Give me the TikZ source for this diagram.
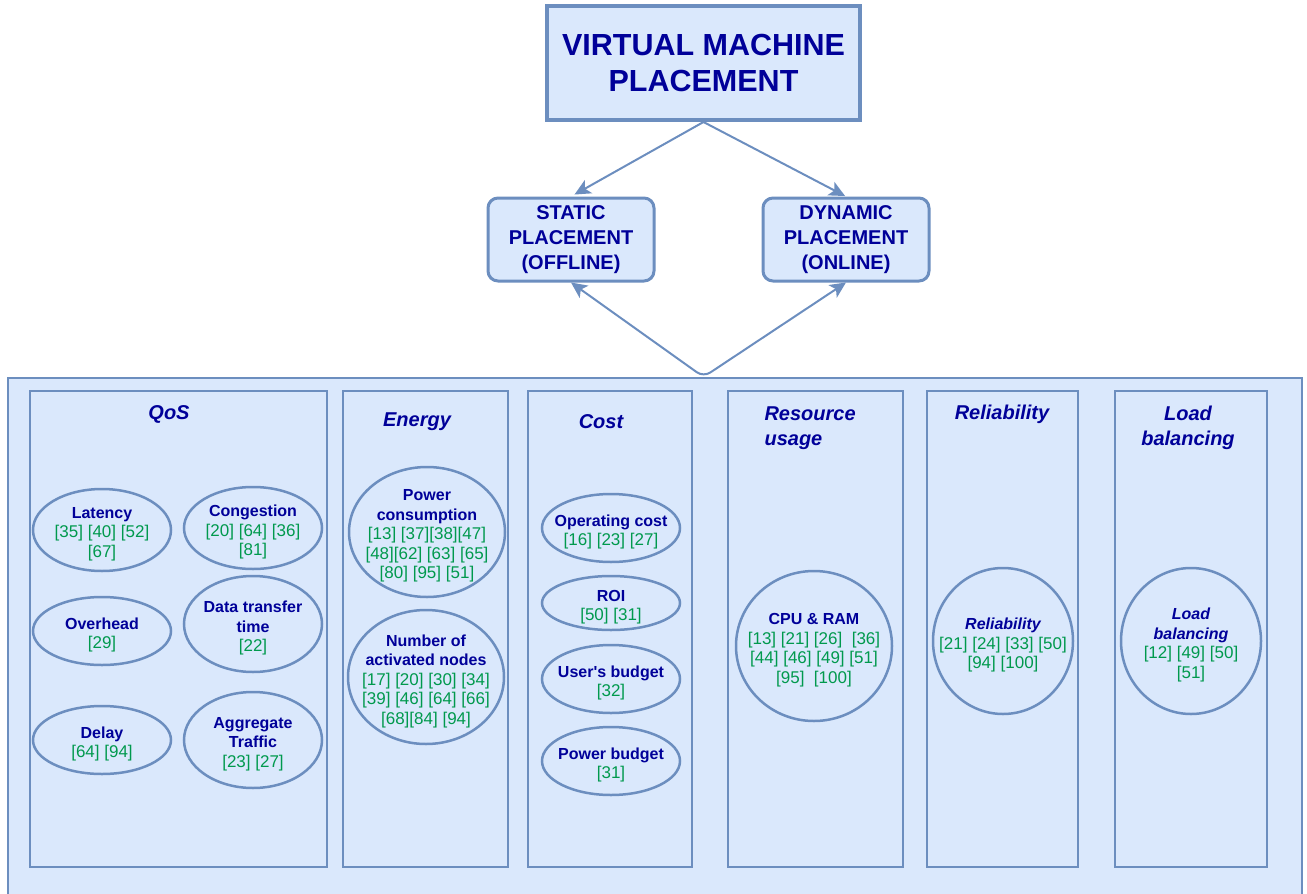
\documentclass[tikz,border=0pt]{standalone}
\usepackage{fontspec}
\setmainfont{Liberation Sans}
\usepackage{tikz}
\usetikzlibrary{arrows.meta}
\usetikzlibrary{shapes.geometric}
\definecolor{boxfill}{HTML}{DAE8FC}
\definecolor{boxline}{HTML}{6C8EBF}
\definecolor{navy}{HTML}{000099}
\definecolor{refgreen}{HTML}{00994D}
\tikzset{box/.style = {draw = boxline, fill = boxfill, inner sep = 0}}
\tikzset{col/.style = {box, line width = 2.5, minimum height = 476}}
\tikzset{oval/.style = {draw = boxline, ellipse, line width = 2.5, inner sep = 0}}
\tikzset{ovtext/.style = {align = center, text = navy, yshift = -4, font = \fontsize{16}{19.5}\selectfont\bfseries}}
\tikzset{coltitle/.style = {align = center, text = navy, font = \fontsize{20}{25}\selectfont\bfseries\itshape}}
\tikzset{kind/.style = {box, rounded corners = 10, line width = 3, minimum width = 166, minimum height = 83,
                        align = center, text = navy, font = \fontsize{20}{25}\selectfont\bfseries}}
\tikzset{link/.style = {draw = boxline, line width = 2, >={Stealth[length = 16pt, width = 15pt, inset = 4pt]}}}
\newcommand{\rf}[1]{{\color{refgreen}\fontsize{17}{19.5}\selectfont\mdseries #1}}

\begin{document}
\begin{tikzpicture}[x=1pt, y=-1pt]
    \useasboundingbox (0, 0) rectangle (1307, 894);
    \clip (0, 0) rectangle (1307, 894);

    \node [box, line width = 4, minimum width = 313, minimum height = 114, align = center, text = navy,
           font = \fontsize{30.5}{36}\selectfont\bfseries] (top) at (703.5, 63) {VIRTUAL MACHINE\\PLACEMENT};
    \node [kind] (st) at (571, 239.5) {STATIC\\PLACEMENT\\(OFFLINE)};
    \node [kind] (dy) at (846, 239.5) {DYNAMIC\\PLACEMENT\\(ONLINE)};

    \node [box, line width = 2, minimum width = 1294, minimum height = 540, anchor = north west] (main) at (7, 377) {};

    \draw [link, ->, shorten > = 4] (top.south) -- (st.north);
    \draw [link, ->, shorten > = 1] (top.south) -- (dy.north);
    \draw [link, <->, rounded corners = 8] (st.south) -- (top.south |- main.north) -- (dy.south);

    \node [col, minimum width = 297] (qos) at (178.5, 629) {};
    \node [col, minimum width = 165] (energy) at (425.5, 629) {};
    \node [col, minimum width = 164] (cost) at (610, 629) {};
    \node [col, minimum width = 175] (res) at (815.5, 629) {};
    \node [col, minimum width = 151] (rel) at (1002.5, 629) {};
    \node [col, minimum width = 152] (load) at (1191, 629) {};

    \node [coltitle] (tqos) at (169, 414) {QoS};
    \node [coltitle] (tenergy) at (417, 422) {Energy};
    \node [coltitle] (tcost) at (601, 422) {Cost};
    \node [coltitle, align = left, anchor = west] (tres) at (761, 428) {Resource\\usage};
    \node [coltitle] (trel) at (1002, 414) {Reliability};
    \node [coltitle] (tload) at (1188, 428) {Load\\balancing};

    \node [oval, minimum width = 138, minimum height = 82] (lat) at (102, 530) {};
    \node [ovtext] at (lat) {Latency\\ \rf{[35] [40] [52]}\\ \rf{[67]}};
    \node [oval, minimum width = 138, minimum height = 82] (cong) at (253, 528) {};
    \node [ovtext] at (cong) {Congestion\\ \rf{[20] [64] [36]}\\ \rf{[81]}};
    \node [oval, minimum width = 138, minimum height = 68] (over) at (102, 631) {};
    \node [ovtext] at (over) {Overhead\\ \rf{[29]}};
    \node [oval, minimum width = 138, minimum height = 96] (dtt) at (253, 624) {};
    \node [ovtext] at (dtt) {Data transfer\\time\\ \rf{[22]}};
    \node [oval, minimum width = 138, minimum height = 68] (delay) at (102, 740) {};
    \node [ovtext] at (delay) {Delay\\ \rf{[64] [94]}};
    \node [oval, minimum width = 138, minimum height = 96] (aggr) at (253, 740) {};
    \node [ovtext] at (aggr) {Aggregate\\Traffic\\ \rf{[23] [27]}};

    \node [oval, minimum width = 156, minimum height = 130] (pow) at (427, 532) {};
    \node [ovtext] at (pow) {Power\\consumption\\ \rf{[13] [37][38][47]}\\ \rf{[48][62] [63] [65]}\\ \rf{[80] [95] [51]}};
    \node [oval, minimum width = 156, minimum height = 134] (act) at (426, 677) {};
    \node [ovtext] at (act) {Number of\\activated nodes\\ \rf{[17] [20] [30] [34]}\\ \rf{[39] [46] [64] [66]}\\ \rf{[68][84] [94]}};

    \node [oval, minimum width = 138, minimum height = 68] (opc) at (611, 528) {};
    \node [ovtext] at (opc) {Operating cost\\ \rf{[16] [23] [27]}};
    \node [oval, minimum width = 138, minimum height = 54] (roi) at (611, 603) {};
    \node [ovtext] at (roi) {ROI\\ \rf{[50] [31]}};
    \node [oval, minimum width = 138, minimum height = 68] (ubud) at (611, 679) {};
    \node [ovtext] at (ubud) {User\textquotesingle s budget\\ \rf{[32]}};
    \node [oval, minimum width = 138, minimum height = 68] (pbud) at (611, 761) {};
    \node [ovtext] at (pbud) {Power budget\\ \rf{[31]}};

    \node [oval, minimum width = 156, minimum height = 150] (cpu) at (814, 646) {};
    \node [ovtext] at (cpu) {CPU \& RAM\\ \rf{[13] [21] [26] \ [36]}\\ \rf{[44] [46] [49] [51]}\\ \rf{[95] \ [100]}};
    \node [oval, minimum width = 140, minimum height = 146] (orel) at (1003, 641) {};
    \node [ovtext] at (orel) {\itshape Reliability\\ \rf{[21] [24] [33] [50]}\\ \rf{[94] [100]}};
    \node [oval, minimum width = 140, minimum height = 146] (olb) at (1191, 641) {};
    \node [ovtext] at (olb) {\itshape Load\\ \itshape balancing\\ \rf{[12] [49] [50]}\\ \rf{[51]}};
\end{tikzpicture}
\end{document}
